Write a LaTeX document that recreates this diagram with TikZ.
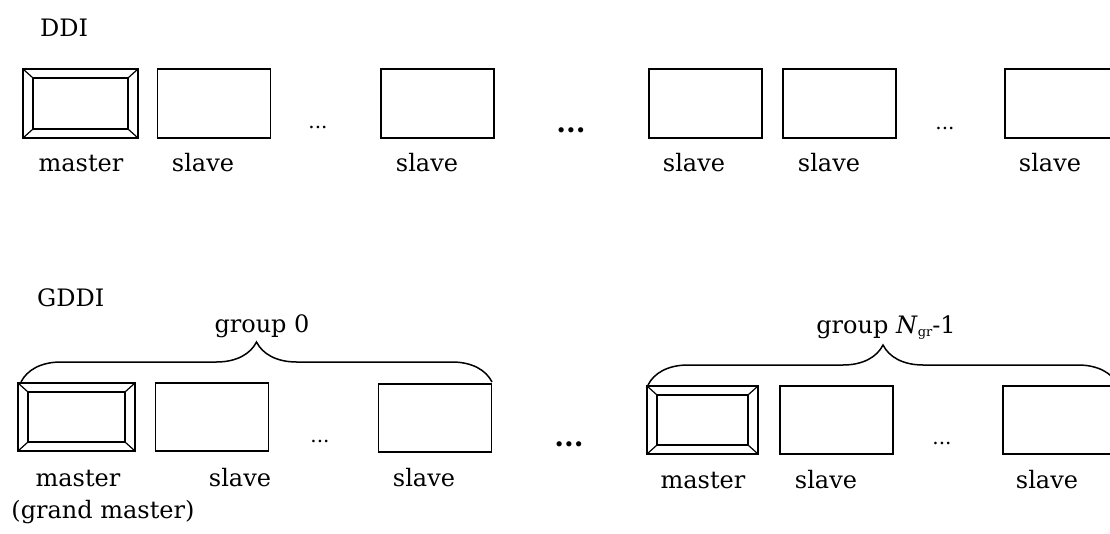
\documentclass[tikz,border=0pt]{standalone}
\usepackage{fontspec}
\setmainfont{DejaVu Serif}
\usetikzlibrary{decorations.pathreplacing}
\begin{document}
\begin{tikzpicture}[x=1pt,y=-1pt,
  every node/.style={font=\fontsize{24}{29}\selectfont},
  slavebox/.style={draw, line width=1.8pt, minimum width=113pt, minimum height=69pt, inner sep=0pt},
  masterbox/.style={draw, line width=2.6pt, minimum width=115pt, minimum height=69pt, inner sep=0pt,
    path picture={
      \draw[line width=1.8pt] ([shift={(10pt,-9pt)}]path picture bounding box.north west) rectangle ([shift={(-10pt,9pt)}]path picture bounding box.south east);
      \draw[line width=1.2pt] (path picture bounding box.north west) -- ([shift={(10pt,-9pt)}]path picture bounding box.north west);
      \draw[line width=1.2pt] (path picture bounding box.north east) -- ([shift={(-10pt,-9pt)}]path picture bounding box.north east);
      \draw[line width=1.2pt] (path picture bounding box.south west) -- ([shift={(10pt,9pt)}]path picture bounding box.south west);
      \draw[line width=1.2pt] (path picture bounding box.south east) -- ([shift={(-10pt,9pt)}]path picture bounding box.south east);
    }},
  lbl/.style={anchor=base, inner sep=0pt},
  title/.style={anchor=base west, inner sep=0pt},
  smalldots/.style={anchor=base, inner sep=0pt, font=\fontsize{20}{22}\selectfont},
  bigdots/.style={anchor=base, inner sep=0pt, font=\fontsize{28}{32}\selectfont\bfseries},
  bracestyle/.style={decorate, decoration={brace, amplitude=40pt}, line width=1.5pt}
]
\useasboundingbox (0,0) rectangle (1110,534);
\clip (0,0) rectangle (1110,534);

% ---------------- DDI ----------------
\node[title] (tddi) at (40,37) {DDI};
\node[masterbox] (dm) at (80.5,103.5) {};
\node[slavebox] (ds1) at (214,103.5) {};
\node[slavebox] (ds2) at (437.5,103.5) {};
\node[slavebox] (ds3) at (705.5,103.5) {};
\node[slavebox] (ds4) at (839.5,103.5) {};
\node[slavebox] (ds5) at (1061.5,103.5) {};

\node[lbl] (ldm) at (81,172) {master};
\node[lbl] (lds1) at (203,172) {slave};
\node[lbl] (lds2) at (427,172) {slave};
\node[lbl] (lds3) at (694,172) {slave};
\node[lbl] (lds4) at (829,172) {slave};
\node[lbl] (lds5) at (1050,172) {slave};

\node[smalldots] (dd1) at (318,129) {...};
\node[bigdots] (dd2) at (571,133) {...};
\node[smalldots] (dd3) at (945,130) {...};

% ---------------- GDDI ----------------
\node[title] (tgddi) at (37,307) {GDDI};

\node[masterbox, minimum width=117pt, minimum height=68pt] (g0m) at (76.5,417) {};
\node[slavebox, minimum height=68pt] (g0s1) at (212,417) {};
\node[slavebox, minimum height=68pt] (g0s2) at (435,418) {};

\node[masterbox, minimum width=111pt, minimum height=68pt] (gnm) at (702.5,420) {};
\node[slavebox, minimum height=68pt] (gns1) at (836.5,420) {};
\node[slavebox, minimum height=68pt] (gns2) at (1059.5,420) {};

\coordinate (b0l) at (21,382);
\coordinate (b0r) at (492,382);
\coordinate (bnl) at (648,385);
\coordinate (bnr) at (1118,385);
\draw[bracestyle] (b0l) -- (b0r);
\draw[bracestyle] (bnl) -- (bnr);

\node[lbl] (grp0) at (262,332) {group 0};
\node[lbl] (grpn) at (886,333) {group \textit{N}\raisebox{-0.25ex}{\fontsize{13}{13}\selectfont gr}-1};

\node[lbl] (lg0m) at (78,486) {master};
\node[lbl] (lg0s1) at (240,486) {slave};
\node[lbl] (lg0s2) at (424,486) {slave};
\node[lbl] (lgrand) at (103,518) {(grand master)};

\node[lbl] (lgnm) at (703,488) {master};
\node[lbl] (lgns1) at (826,488) {slave};
\node[lbl] (lgns2) at (1047,488) {slave};

\node[smalldots] (gd1) at (320,442) {...};
\node[bigdots] (gd2) at (569,446) {...};
\node[smalldots] (gd3) at (942,444) {...};
\end{tikzpicture}
\end{document}
